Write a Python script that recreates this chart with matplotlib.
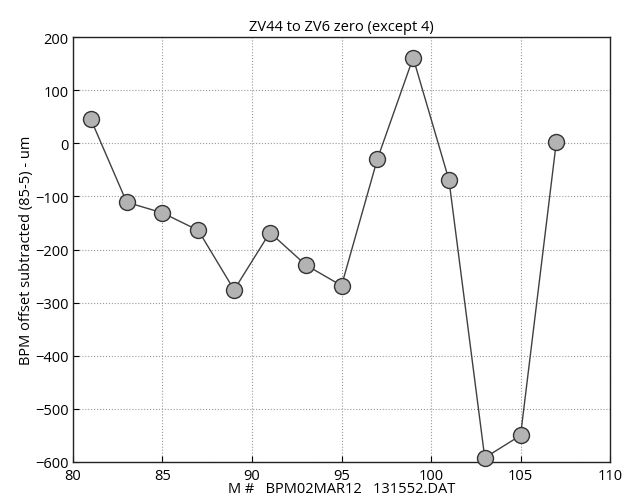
import matplotlib
matplotlib.use("Agg")
import matplotlib.pyplot as plt

x_vals = [81, 83, 85, 87, 89, 91, 93, 95, 97, 99, 101, 103, 105, 107]
y_vals = [45, -111, -131, -164, -276, -168, -229, -268, -30, 161, -69, -592, -550, 3]
x_ticks = [80, 85, 90, 95, 100, 105, 110]
y_ticks = [-600, -500, -400, -300, -200, -100, 0, 100, 200]

plt.rcParams['font.family'] = ['Open Sans', 'DejaVu Sans']

fig = plt.figure(figsize=(6.27, 5.02), dpi=100)
ax = fig.add_axes([0.1164, 0.0777, 0.8566, 0.8465])
ax.plot(x_vals, y_vals, color='#404040', linewidth=1.0, marker='o', markersize=11.5,
        markerfacecolor='#b3b3b3', markeredgecolor='#333333', markeredgewidth=1.0, clip_on=False, zorder=3)
ax.set_xlim(80, 110)
ax.set_ylim(-600, 200)
ax.set_xticks(x_ticks)
ax.set_yticks(y_ticks)
ax.tick_params(labelsize=10.5, direction='in', length=4)
ax.tick_params(axis='x', pad=4)
ax.tick_params(axis='y', pad=3)
ax.grid(True, linestyle=':', color='#999999', linewidth=0.8)
for s in ax.spines.values():
    s.set_linewidth(1.0)
    s.set_color('#222222')
ax.set_title('ZV44 to ZV6 zero (except 4)', fontsize=10.5, pad=5)
ax.set_xlabel('M #   BPM02MAR12   131552.DAT', fontsize=10.5, labelpad=-1)
ax.set_ylabel('BPM offset subtracted (85-5) - um', fontsize=10.5, labelpad=1)
fig.savefig('out.png', dpi=100)
